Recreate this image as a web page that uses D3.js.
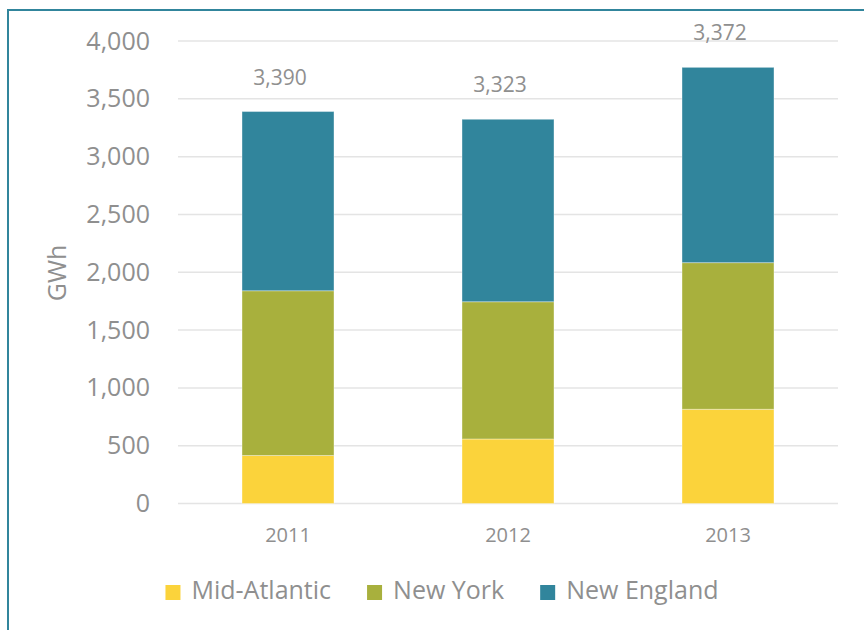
<!DOCTYPE html>
<html>
<head>
<meta charset="utf-8">
<script src="https://cdn.jsdelivr.net/npm/d3@7"></script>
<style>
  html, body { margin: 0; padding: 0; background: #fff; }
  svg { display: block; }
  text { font-family: "Open Sans", "Noto Sans", sans-serif; fill: #8f8f8f; }
</style>
</head>
<body>
<svg id="chart" width="864" height="630"></svg>
<script>
const years = ["2011", "2012", "2013"];
const seriesNames = ["Mid-Atlantic", "New York", "New England"];
const midAtlantic = [415, 558, 815];
const newYork = [1425, 1187, 1268];
const newEngland = [1550, 1578, 1689];
const totalLabels = ["3,390", "3,323", "3,372"];
const yTicks = [0, 500, 1000, 1500, 2000, 2500, 3000, 3500, 4000];
const colors = ["#FBD33B", "#A8B03D", "#31859C"];

const svg = d3.select("#chart");

// outer frame (clipped at right/bottom like reference)
svg.append("rect")
  .attr("x", 8).attr("y", 10)
  .attr("width", 900).attr("height", 700)
  .attr("fill", "none")
  .attr("stroke", "#31859C")
  .attr("stroke-width", 2);

const x = d3.scaleBand().domain(years).range([178, 838])
  .paddingInner(0.582).paddingOuter(0.291);
const y = d3.scaleLinear().domain([0, 4000]).range([503.5, 41]);

// gridlines
svg.append("g").selectAll("line").data(yTicks).join("line")
  .attr("x1", 178).attr("x2", 838)
  .attr("y1", d => y(d)).attr("y2", d => y(d))
  .attr("stroke", "#e4e4e4").attr("stroke-width", 1.5);

// y axis labels
const yAxis = d3.axisLeft(y).tickValues(yTicks).tickSize(0).tickPadding(28)
  .tickFormat(d3.format(","));
const gy = svg.append("g").attr("transform", "translate(178,0)").call(yAxis);
gy.select(".domain").remove();
gy.selectAll("text").attr("font-size", 25).attr("fill", "#959595")
  .style("font-family", '"Open Sans", sans-serif');

// axis title
svg.append("text")
  .attr("transform", "translate(66,273) rotate(-90)")
  .attr("text-anchor", "middle")
  .attr("font-size", 25)
  .attr("fill", "#959595")
  .text("GWh");

// stacked data
const rows = years.map((yr, i) => ({
  year: yr,
  "Mid-Atlantic": midAtlantic[i],
  "New York": newYork[i],
  "New England": newEngland[i]
}));
const stack = d3.stack().keys(seriesNames)(rows);

svg.append("g").selectAll("g").data(stack).join("g")
  .attr("fill", (d, i) => colors[i])
  .selectAll("rect").data(d => d).join("rect")
  .attr("x", d => x(d.data.year))
  .attr("width", x.bandwidth())
  .attr("y", d => y(d[1]))
  .attr("height", d => y(d[0]) - y(d[1]))
  .attr("stroke", "rgba(255,255,255,0.35)")
  .attr("stroke-width", 1);

// x axis labels
const xAxis = d3.axisBottom(x).tickSize(0).tickPadding(0);
const gx = svg.append("g").attr("transform", "translate(0,520)").call(xAxis);
gx.select(".domain").remove();
gx.selectAll("text").attr("font-size", 20).attr("fill", "#959595")
  .attr("dy", null).attr("y", 22)
  .style("font-family", '"Open Sans", sans-serif');

// total labels
const topLayer = stack[stack.length - 1];
svg.append("g").selectAll("text").data(topLayer).join("text")
  .attr("x", d => x(d.data.year) + x.bandwidth() / 2 - 8)
  .attr("y", d => y(d[1]) - 27)
  .attr("text-anchor", "middle")
  .attr("font-size", 21)
  .attr("fill", "#8a8a8a")
  .text((d, i) => totalLabels[i]);

// legend
const legend = svg.append("g");
const items = legend.selectAll("g").data(seriesNames).join("g");
items.append("rect").attr("width", 15).attr("height", 15)
  .attr("y", -14)
  .attr("fill", (d, i) => colors[i]);
items.append("text").attr("x", 26).attr("y", 0)
  .attr("font-size", 25).attr("fill", "#959595")
  .text(d => d);
let widths = [];
items.each(function() {
  widths.push(26 + this.querySelector("text").getComputedTextLength());
});
const gap = 36;
const total = d3.sum(widths) + gap * (widths.length - 1);
let cx = 442 - total / 2;
items.each(function(d, i) {
  d3.select(this).attr("transform", `translate(${cx},599)`);
  cx += widths[i] + gap;
});
</script>
</body>
</html>
